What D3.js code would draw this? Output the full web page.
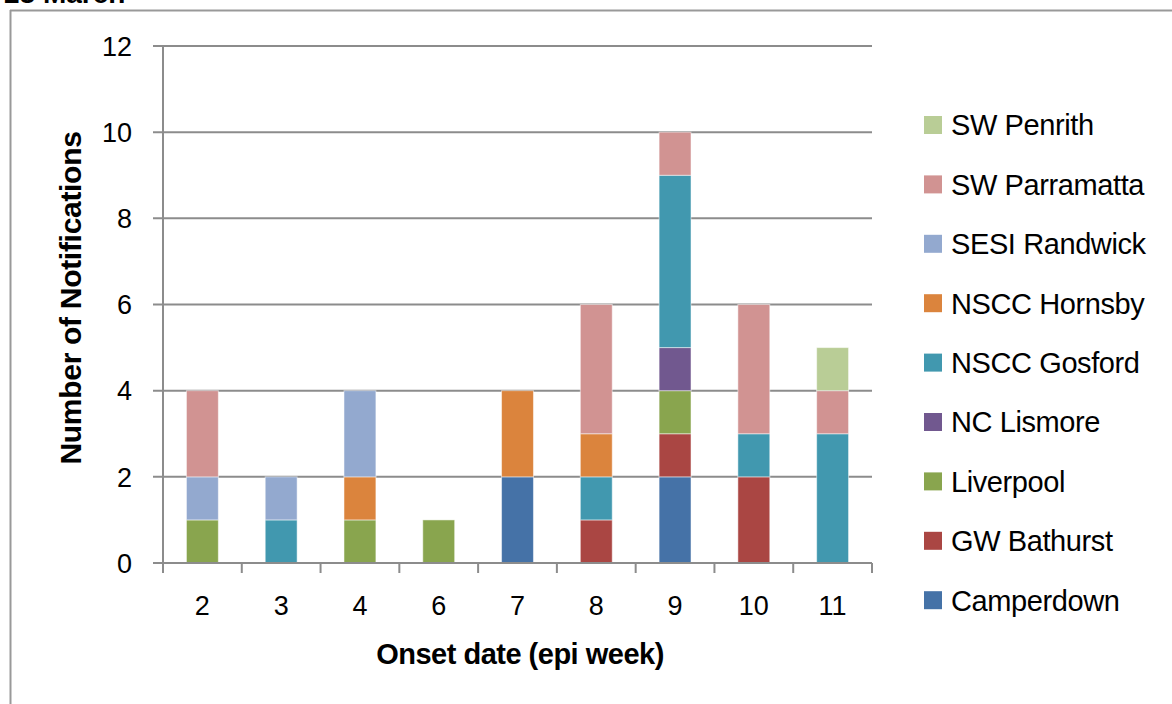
<!DOCTYPE html>
<html lang="en">
<head>
<meta charset="UTF-8">
<title>notifications by epi week</title>
<style>
  body { margin: 0; background: #fff; }
  svg text { font-family: "Liberation Sans", Arial, sans-serif; fill: #000; }
</style>
</head>
<body>
<svg id="chart" width="1172" height="704"></svg>
<script src="https://cdn.jsdelivr.net/npm/d3@7"></script>
<script>
// epi weeks on the x axis
const weeks = ["2", "3", "4", "6", "7", "8", "9", "10", "11"];
// stack order, bottom to top
const series = ["Camperdown", "GW Bathurst", "Liverpool", "NC Lismore", "NSCC Gosford",
  "NSCC Hornsby", "SESI Randwick", "SW Parramatta", "SW Penrith"];
const colors = ["#4572A7", "#AA4643", "#89A54E", "#71588F", "#4198AF",
  "#DB843D", "#93A9CF", "#D19392", "#B9CD96"];

// counts per series, one value per week
const camperdown   = [0, 0, 0, 0, 2, 0, 2, 0, 0];
const gwBathurst   = [0, 0, 0, 0, 0, 1, 1, 2, 0];
const liverpool    = [1, 0, 1, 1, 0, 0, 1, 0, 0];
const ncLismore    = [0, 0, 0, 0, 0, 0, 1, 0, 0];
const nsccGosford  = [0, 1, 0, 0, 0, 1, 4, 1, 3];
const nsccHornsby  = [0, 0, 1, 0, 2, 1, 0, 0, 0];
const sesiRandwick = [1, 1, 2, 0, 0, 0, 0, 0, 0];
const swParramatta = [2, 0, 0, 0, 0, 3, 1, 3, 1];
const swPenrith    = [0, 0, 0, 0, 0, 0, 0, 0, 1];
const yTicks = [0, 2, 4, 6, 8, 10, 12];

const values = [camperdown, gwBathurst, liverpool, ncLismore, nsccGosford,
  nsccHornsby, sesiRandwick, swParramatta, swPenrith];
const rows = weeks.map((w, i) => {
  const r = { week: w };
  series.forEach((s, j) => r[s] = values[j][i]);
  return r;
});

const svg = d3.select("#chart");
const plotL = 163, plotR = 872, plotT = 46, plotB = 563;

// frame around the figure, title text cut by the top edge as in the source
svg.append("line").attr("x1", 10.5).attr("x2", 10.5).attr("y1", 10).attr("y2", 704)
  .attr("stroke", "#999").attr("stroke-width", 2);
svg.append("line").attr("x1", 10).attr("x2", 1172).attr("y1", 10.5).attr("y2", 10.5)
  .attr("stroke", "#999").attr("stroke-width", 2);
svg.append("text").attr("x", 4).attr("y", 3).attr("font-size", 28).attr("font-weight", "bold")
  .text("28 March");

const x = d3.scaleBand().domain(weeks).range([plotL, plotR]).paddingInner(0.595).paddingOuter(0.2975);
const xb = d3.scaleBand().domain(weeks).range([plotL, plotR]);
const y = d3.scaleLinear().domain([0, 12]).range([plotB, plotT]);

// gridlines
svg.append("g").selectAll("line").data(yTicks).join("line")
  .attr("x1", plotL - 10).attr("x2", plotR)
  .attr("y1", d => y(d)).attr("y2", d => y(d))
  .attr("stroke", "#8c8c8c").attr("stroke-width", 2);

// y axis
svg.append("line").attr("x1", plotL).attr("x2", plotL).attr("y1", plotT).attr("y2", plotB)
  .attr("stroke", "#8c8c8c").attr("stroke-width", 2);
svg.append("g").selectAll("text").data(yTicks).join("text")
  .attr("x", 132).attr("y", d => y(d)).attr("dy", "0.36em")
  .attr("text-anchor", "end").attr("font-size", 27).text(d => d);

// stacked bars
const stack = d3.stack().keys(series)(rows);
svg.append("g").selectAll("g").data(stack).join("g")
  .attr("fill", (d, i) => colors[i])
  .selectAll("rect").data(d => d.filter(p => p[1] > p[0])).join("rect")
  .attr("x", d => x(d.data.week))
  .attr("width", x.bandwidth())
  .attr("y", d => y(d[1]))
  .attr("height", d => y(d[0]) - y(d[1]))
  .attr("stroke", "rgba(255,255,255,0.5)").attr("stroke-width", 1);

// x axis
svg.append("line").attr("x1", plotL).attr("x2", plotR).attr("y1", plotB).attr("y2", plotB)
  .attr("stroke", "#8c8c8c").attr("stroke-width", 2);
const bounds = weeks.map(w => xb(w)).concat([plotR]);
svg.append("g").selectAll("line").data(bounds).join("line")
  .attr("x1", d => d).attr("x2", d => d).attr("y1", plotB).attr("y2", plotB + 10)
  .attr("stroke", "#8c8c8c").attr("stroke-width", 2);
svg.append("g").selectAll("text").data(weeks).join("text")
  .attr("x", d => xb(d) + xb.bandwidth() / 2).attr("y", 615)
  .attr("text-anchor", "middle").attr("font-size", 27).text(d => d);

// axis titles
svg.append("text").attr("x", 520).attr("y", 664).attr("text-anchor", "middle")
  .attr("font-size", 29).attr("font-weight", "bold").attr("letter-spacing", -0.5)
  .text("Onset date (epi week)");
svg.append("text").attr("transform", "translate(81,298) rotate(-90)")
  .attr("text-anchor", "middle").attr("font-size", 30).attr("font-weight", "bold")
  .attr("letter-spacing", -0.3).text("Number of Notifications");

// legend, top entry is the last series
const legend = svg.append("g").selectAll("g").data(series.slice().reverse()).join("g")
  .attr("transform", (d, i) => `translate(924,${125 + i * 59.4})`);
legend.append("rect").attr("x", 0).attr("y", -9).attr("width", 18).attr("height", 18)
  .attr("fill", d => colors[series.indexOf(d)]);
legend.append("text").attr("x", 27).attr("dy", "0.36em").attr("font-size", 29)
  .attr("letter-spacing", -0.4).text(d => d);
</script>
</body>
</html>
